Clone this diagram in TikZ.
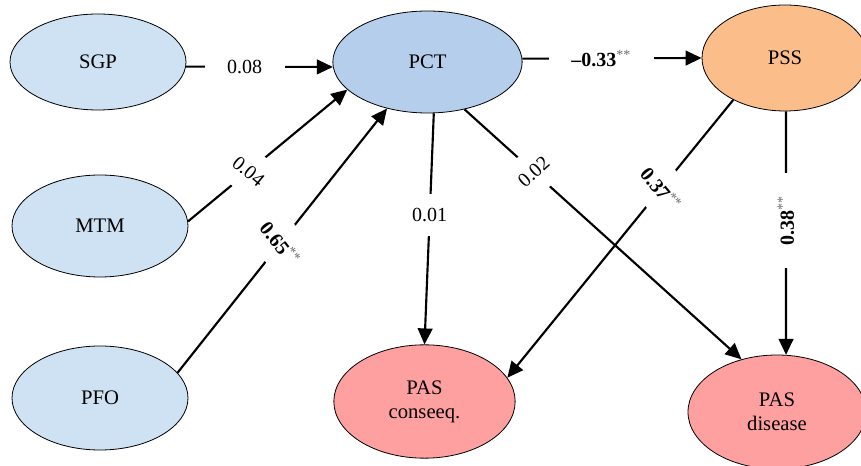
\documentclass[tikz,border=0pt]{standalone}
\usepackage{fontspec}
\setmainfont{Liberation Serif}
\usepackage{xcolor}
\usepackage{tikz}
\usetikzlibrary{arrows.meta,shapes.geometric}
\definecolor{exoblue}{RGB}{207,226,244}
\definecolor{pctblue}{RGB}{180,206,235}
\definecolor{pssorange}{RGB}{251,190,139}
\definecolor{paspink}{RGB}{255,160,160}
\definecolor{stargray}{RGB}{110,110,110}
\newcommand{\sigcoef}[1]{\textbf{#1}\textsuperscript{\textcolor{stargray}{**}}}

\begin{document}
\begin{tikzpicture}[x=0.75pt,y=0.75pt,yscale=-1,xscale=1,
  var/.style={ellipse,draw,line width=0.6pt,inner sep=0pt,align=center,font=\fontsize{15.5}{18}\selectfont},
  pathline/.style={line width=1.6pt,-{Triangle[length=12pt,width=11pt]}},
  coef/.style={fill=white,inner xsep=17pt,inner ysep=11pt,font=\fontsize{15}{17}\selectfont}]
\useasboundingbox (0,0) rectangle (861,466);

%Shape: Ellipse [SGP]
\node[var,fill=exoblue,minimum width=132pt,minimum height=72pt] (sgp) at (98,62) {SGP};
%Shape: Ellipse [MTM]
\node[var,fill=exoblue,minimum width=132pt,minimum height=76.5pt] (mtm) at (100,226) {MTM};
%Shape: Ellipse [PFO]
\node[var,fill=exoblue,minimum width=132pt,minimum height=78pt] (pfo) at (100,398) {PFO};
%Shape: Ellipse [PCT]
\node[var,fill=pctblue,minimum width=142pt,minimum height=76.5pt] (pct) at (427.5,62) {PCT};
%Shape: Ellipse [PSS]
\node[var,fill=pssorange,minimum width=124.5pt,minimum height=79.5pt] (pss) at (785,58) {PSS};
%Shape: Ellipse [PAS conseeq.]
\node[var,fill=paspink,minimum width=136pt,minimum height=85pt] (pascon) at (424.5,401.5) {PAS\\conseeq.};
%Shape: Ellipse [PAS disease]
\node[var,fill=paspink,minimum width=133.5pt,minimum height=85.5pt] (pasdis) at (777,412) {PAS\\disease};

%Straight Lines [SGP -> PCT]
\draw[pathline] (sgp.-3.3) -- node[coef,pos=0.40] {0.08} (pct.183);
%Straight Lines [PCT -> PSS]
\draw[pathline] (pct.2.5) -- node[coef,pos=0.44] {\sigcoef{--0.33}} (pss.west);
%Straight Lines [MTM -> PCT]
\draw[pathline] (mtm.3.9) -- node[coef,sloped,pos=0.38] {0.04} (pct.-161);
%Straight Lines [PFO -> PCT]
\draw[pathline] (pfo.18) -- node[coef,sloped,pos=0.49] {\sigcoef{0.65}} (pct.-131.5);
%Straight Lines [PCT -> PAS conseeq.]
\draw[pathline] (pct.-83) -- node[coef,pos=0.44] {0.01} (pascon.north);
%Straight Lines [PCT -> PAS disease]
\draw[pathline] (pct.-52) -- node[coef,sloped,pos=0.25] {0.02} (pasdis.124);
%Straight Lines [PSS -> PAS conseeq.]
\draw[pathline] (pss.-141) -- node[coef,sloped,pos=0.32] {\sigcoef{0.37}} (pascon.16);
%Straight Lines [PSS -> PAS disease]
\draw[pathline] (pss.-89) -- node[coef,rotate=90,pos=0.45] {\sigcoef{0.38}} (pasdis.81);

\end{tikzpicture}
\end{document}
